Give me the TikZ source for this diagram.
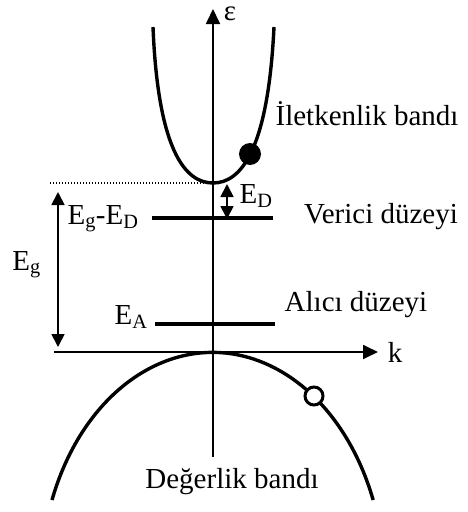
\documentclass[tikz,border=0pt]{standalone}
\usepackage{fontspec}
\setmainfont{Liberation Serif}
\usetikzlibrary{arrows.meta}

\begin{document}
\begin{tikzpicture}[
    x=1pt, y=-1pt,
    lbl/.style={font=\fontsize{29}{34}\selectfont, inner sep=0pt, anchor=base},
    axis/.style={line width=1.8pt, -{Triangle[length=15pt,width=14pt]}},
    band/.style={line width=3.4pt},
    level/.style={line width=4pt},
    dim/.style={line width=1.8pt, {Triangle[length=13pt,width=13pt]}-{Triangle[length=13pt,width=13pt]}},
    electron/.style={circle, fill=black, minimum size=22pt, inner sep=0pt},
    hole/.style={circle, draw, fill=white, line width=3pt, minimum size=18pt, inner sep=0pt},
]
\useasboundingbox (0,0) rectangle (467,512);

% axes
\coordinate (O) at (213,352);
\coordinate (ebot) at (213,457);
\coordinate (etop) at (213,9);
\coordinate (kleft) at (54,352);
\coordinate (kright) at (378,352);
\draw[axis] (ebot) -- (etop);
\draw[axis] (kleft) -- (kright);
\node[lbl] (eps) at (230,20) {ε};
\node[lbl] (k) at (395,362) {k};

% iletkenlik bandi
\coordinate (cbl) at (153,27);
\coordinate (cbmin) at (213,183);
\coordinate (cbr) at (274,27);
\draw[band] (cbl) .. controls (158,150) and (185,183) .. (cbmin)
    .. controls (241,183) and (268,150) .. (cbr);
\node[electron] (elec) at (250,154) {};
\coordinate (dotl) at (50,183);
\draw[line width=1.2pt, dash pattern=on 1.2pt off 1.8pt] (dotl) -- (cbmin);

% degerlik bandi
\coordinate (vbl) at (52,500);
\draw[band] (vbl) arc[start angle=201, end angle=339, x radius=172, y radius=230];
\node[hole] (hole) at (314,396) {};

% duzeyler
\coordinate (dl) at (152,218);
\coordinate (dr) at (273,218);
\coordinate (al) at (155,324);
\coordinate (ar) at (275,324);
\draw[level] (dl) -- (dr);
\draw[level] (al) -- (ar);

% enerji araliklari
\coordinate (egtop) at (58,192);
\coordinate (egbot) at (58,347);
\coordinate (edtop) at (227,184);
\coordinate (edbot) at (227,219);
\draw[dim] (egtop) -- (egbot);
\draw[dim] (edtop) -- (edbot);

\node[lbl] (cblabel) at (367,125) {İletkenlik bandı};
\node[lbl] (dlabel) at (381,223) {Verici düzeyi};
\node[lbl] (alabel) at (356,311) {Alıcı düzeyi};
\node[lbl] (vblabel) at (232,488) {Değerlik bandı};
\node[lbl] (eg) at (26.5,270) {E\textsubscript{g}};
\node[lbl] (egmed) at (103,224) {E\textsubscript{g}-E\textsubscript{D}};
\node[lbl] (ea) at (131,324) {E\textsubscript{A}};
\node[lbl] (ed) at (256,203) {E\textsubscript{D}};

\end{tikzpicture}
\end{document}
